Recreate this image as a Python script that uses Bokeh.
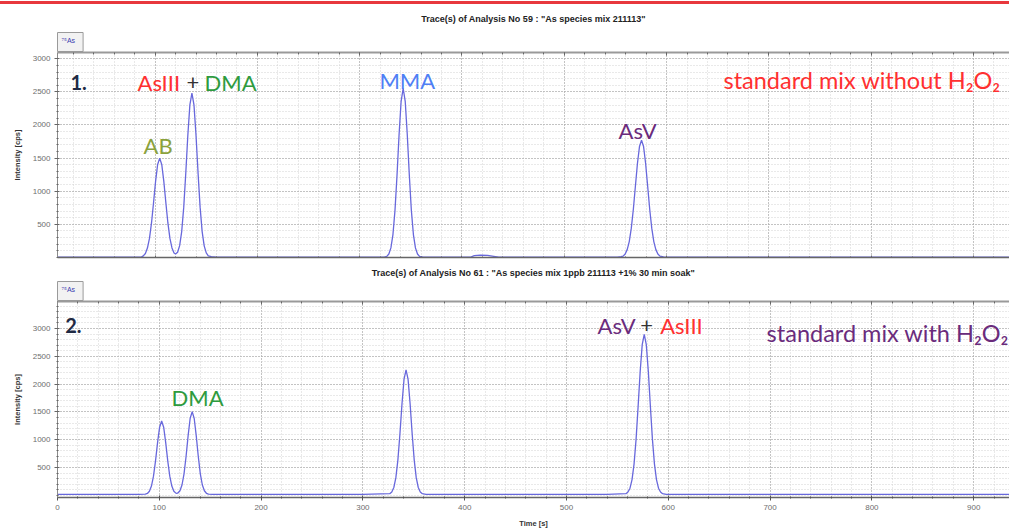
from bokeh.plotting import figure
from bokeh.models import LinearAxis, FixedTicker, Range1d, Label, Grid, Div, Title
from bokeh.layouts import column
from bokeh.embed import file_html
from bokeh.resources import INLINE

# ---------------- data ----------------
top_time = [5, 60, 86.5, 88.5, 90.5, 92.5, 94.5, 96.5, 98.5, 100.5, 102.5, 104.5, 106.5, 108.5,
            110.5, 112.5, 114.5, 116.5, 118.5, 120, 122, 124, 126, 128, 130, 132, 134, 136, 138,
            140, 142, 144, 146, 148, 150, 152, 155, 160, 170, 300, 324, 326.5, 328.5, 330.5, 332.5,
            334.5, 336.5, 338.5, 340.5, 342.5, 344.5, 346.5, 348.5, 350.5, 352.5, 354.5, 356.5,
            358.5, 362, 408, 412, 418, 425, 431, 436, 540, 552, 555.5, 557.5, 559.5, 561.5, 563.5,
            565.5, 567.5, 569.5, 571.5, 573.5, 575.5, 577.5, 579.5, 581.5, 583.5, 585.5, 587.5,
            589.5, 591.5, 593.5, 597, 603, 935]
top_intensity = [2, 2, 4, 22, 59, 140, 286, 520, 828, 1152, 1404, 1500, 1404, 1152,
                 828, 520, 286, 142, 67, 50, 77, 177, 389, 759, 1275, 1845, 2304, 2480, 2304,
                 1845, 1275, 759, 389, 174, 67, 24, 10, 4, 2, 2, 3, 15, 51, 143, 345,
                 710, 1244, 1855, 2358, 2555, 2358, 1855, 1244, 710, 345, 143, 51,
                 15, 3, 2, 25, 35, 30, 15, 2, 2, 5, 10, 19, 51, 117, 239,
                 441, 727, 1074, 1418, 1674, 1770, 1674, 1418, 1074, 727, 441, 239,
                 117, 51, 19, 6, 3, 2]

bottom_time = [0, 80, 86.3, 88.3, 90.3, 92.3, 94.3, 96.3, 98.3, 100.3, 102.3, 104.3, 106.3,
               108.3, 110.3, 112.3, 114.3, 116.3, 117.3, 118.3, 120.3, 122.3, 124.3, 126.3,
               128.3, 130.3, 132.3, 134.3, 136.3, 138.3, 140.3, 142.3, 144.3, 146.3, 148.3, 152,
               300, 326.4, 328.4, 330.4, 332.4, 334.4, 336.4, 338.4, 340.4, 342.4, 344.4, 346.4,
               348.4, 350.4, 352.4, 354.4, 356.4, 358.4, 362, 540, 558.4, 560.4, 562.4, 564.4,
               566.4, 568.4, 570.4, 572.4, 574.4, 576.4, 578.4, 580.4, 582.4, 584.4, 586.4,
               588.4, 590.4, 592.4, 594.4, 598, 935]
bottom_intensity = [15, 15, 20, 33, 73, 165, 344, 620, 948, 1225, 1335, 1225, 948,
                    620, 344, 165, 74, 39, 36, 41, 82, 185, 386, 697,
                    1068, 1381, 1505, 1381, 1068, 697, 386, 185, 81, 36, 21, 16,
                    15, 28, 60, 140, 317, 638, 1106, 1641, 2083, 2255, 2083, 1641,
                    1106, 638, 317, 140, 60, 28, 16, 15, 29, 58, 127, 283,
                    565, 1014, 1605, 2227, 2711, 2895, 2711, 2227, 1605, 1014, 565,
                    283, 127, 58, 29, 18, 15]

x_ticks = [0, 100, 200, 300, 400, 500, 600, 700, 800, 900]
y_ticks = [500, 1000, 1500, 2000, 2500, 3000]
x_minor = list(range(0, 941, 20))
y_minor = list(range(0, 3500, 100))

top_title = 'Trace(s) of Analysis No 59 : "As species mix 211113"'
bottom_title = 'Trace(s) of Analysis No 61 : "As species mix 1ppb 211113 +1% 30 min soak"'
x_label = "Time [s]"
y_label = "Intensity [cps]"
legend_text = "\u2077\u2075As"

top_notes = [("1.", 17.3, 2642, "#1f2a44", "bold", "20px"),
             ("AsIII", 82.8, 2645, "#ff3030", "normal", "22px"),
             ("+", 130.7, 2645, "#333333", "normal", "22px"),
             ("DMA", 148.3, 2645, "#2e9b3e", "normal", "22px"),
             ("AB", 88.7, 1693, "#8ba23c", "normal", "22px"),
             ("MMA", 319.3, 2674, "#4f7ff5", "normal", "22px"),
             ("AsV", 553.0, 1919, "#6a2b7c", "normal", "22px"),
             ("standard mix without H\u2082O\u2082", 655.6, 2673, "#ff3030", "normal", "23.5px")]
bottom_notes = [("2.", 7.5, 3054, "#1f2a44", "bold", "20px"),
                ("DMA", 112.1, 1759, "#2e9b3e", "normal", "22px"),
                ("AsV", 530.5, 3054, "#6a2b7c", "normal", "22px"),
                ("+", 572.5, 3054, "#333333", "normal", "22px"),
                ("AsIII", 592.0, 3054, "#ff3030", "normal", "22px"),
                ("standard mix with H\u2082O\u2082", 696.6, 2916, "#6a2b7c", "normal", "23.5px")]

TRACE = "#6868dc"
X_END = 935.2


def quiet_axis(ticker, tick_in, minor_in, color, width):
    return LinearAxis(ticker=ticker, major_label_text_font_size="1px",
                      major_label_text_color=None, major_label_standoff=0,
                      axis_line_color=color, axis_line_width=width,
                      major_tick_line_color="#666666", major_tick_in=tick_in, major_tick_out=0,
                      minor_tick_line_color="#666666", minor_tick_in=minor_in, minor_tick_out=0)


def make_panel(height, x_start, y_start, y_end, b_left, b_top, b_bottom, show_x):
    p = figure(width=1009, height=height, x_range=Range1d(x_start, X_END),
               y_range=Range1d(y_start, y_end), output_backend="svg", toolbar_location=None,
               min_border_left=b_left, min_border_right=0, min_border_top=b_top,
               min_border_bottom=b_bottom, x_axis_type=None, y_axis_type=None,
               background_fill_color="white", border_fill_color="white",
               outline_line_color=None)
    xt = FixedTicker(ticks=x_ticks, minor_ticks=x_minor)
    yt = FixedTicker(ticks=y_ticks, minor_ticks=y_minor)

    p.add_layout(Grid(dimension=0, ticker=xt, grid_line_color="#9c9c9c", grid_line_dash="1 2",
                      minor_grid_line_color="#d2d2d2", minor_grid_line_dash="1 2"))
    p.add_layout(Grid(dimension=1, ticker=yt, grid_line_color="#9c9c9c", grid_line_dash="1 2",
                      minor_grid_line_color="#d2d2d2", minor_grid_line_dash="1 2"))

    ya = LinearAxis(ticker=yt, axis_label=y_label, axis_label_text_font="Liberation Sans",
                    axis_label_text_font_size="7.5px", axis_label_text_font_style="bold",
                    axis_label_text_color="#333333", axis_label_standoff=8,
                    major_label_text_font="Liberation Sans", major_label_text_font_size="8px",
                    major_label_text_color="#6e6e6e", major_label_standoff=4,
                    axis_line_color="#8a8a8a", major_tick_line_color="#666666",
                    major_tick_in=2, major_tick_out=3, minor_tick_line_color="#666666",
                    minor_tick_in=1, minor_tick_out=1)
    p.add_layout(ya, "left")

    p.add_layout(quiet_axis(xt, 3, 2, "#9a9a9a", 2), "above")

    if show_x:
        xa = LinearAxis(ticker=xt, axis_label=x_label, axis_label_text_font="Liberation Sans",
                        axis_label_text_font_size="7.5px", axis_label_text_font_style="bold",
                        axis_label_text_color="#333333", axis_label_standoff=6,
                        major_label_text_font="Liberation Sans", major_label_text_font_size="8px",
                        major_label_text_color="#6e6e6e", major_label_standoff=4,
                        axis_line_color="#666666", axis_line_width=1.5,
                        major_tick_line_color="#555555", major_tick_in=2, major_tick_out=3,
                        minor_tick_line_color="#555555", minor_tick_in=1, minor_tick_out=1)
    else:
        xa = quiet_axis(xt, 2, 1, "#666666", 1.5)
    p.add_layout(xa, "below")
    return p


def add_notes(p, notes):
    for text, x, y, color, style, size in notes:
        p.add_layout(Label(x=x, y=y, text=text, text_color=color, text_font="Lato",
                           text_font_style=style, text_font_size=size,
                           text_baseline="alphabetic", text_align="left"))


def add_header(p, title, title_offset, title_standoff):
    p.add_layout(Title(text=legend_text, align="left", text_font="Liberation Sans",
                       text_font_size="7px", text_font_style="normal", text_color="#3a3ab0",
                       background_fill_color="#f2f2f2", border_line_color="#9a9a9a",
                       padding=(4, 8, 4, 8), standoff=2), "above")
    p.add_layout(Title(text=title, align="center", offset=title_offset,
                       standoff=title_standoff, text_font="Liberation Sans",
                       text_font_style="bold", text_font_size="9px", text_color="#222222"),
                 "above")


red_bar = Div(text="", width=1009, height=3, margin=(1, 0, 0, 0),
              styles={"background-color": "#e8383d"})

p1 = make_panel(258, 4.6, -2, 3095, 57, 48, 5, False)
p1.line(top_time, top_intensity, line_color=TRACE, line_width=1.3)
add_notes(p1, top_notes)
add_header(p1, top_title, -15, 11)

p2 = make_panel(269, 0, -40, 3486, 52, 39, 34, True)
p2.line(bottom_time, bottom_intensity, line_color=TRACE, line_width=1.3)
add_notes(p2, bottom_notes)
add_header(p2, bottom_title, -13, 2)

layout = column(red_bar, p1, p2, spacing=0)
open("out.html", "w").write(file_html(layout, INLINE))
